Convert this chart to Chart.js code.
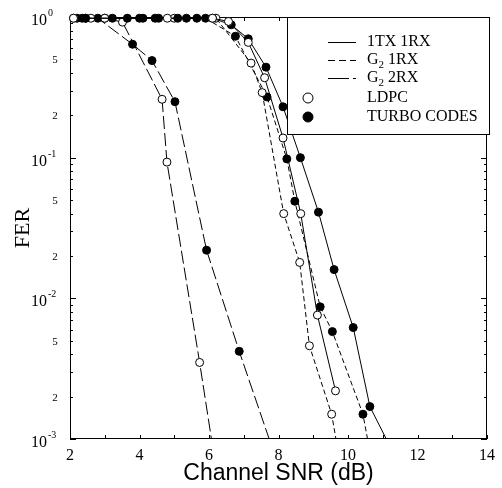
<!DOCTYPE html>
<html><head><meta charset="utf-8">
<script src="https://cdn.jsdelivr.net/npm/chart.js@4.4.0/dist/chart.umd.min.js"></script>
<style>html,body{margin:0;padding:0;background:#fff;}canvas{display:block;}</style>
</head><body>
<canvas id="c" width="502" height="488"></canvas>
<script>
// ---- data (x = Channel SNR dB, y = FER) ----
const xTicks = [2, 4, 6, 8, 10, 12, 14];

const ldpc1txX = [2.1, 4.8, 6.1, 6.56, 7.13, 7.6, 8.13, 8.64, 9.12, 9.64];
const ldpc1txY = [0.98, 0.98, 0.98, 0.93, 0.66, 0.37, 0.138, 0.040, 0.0076, 0.0022];

const turbo1txX = [2.35, 3.22, 4.0, 4.45, 5.1, 5.65, 6.1, 6.64, 7.13, 7.64, 8.13, 8.63, 9.15, 9.6, 10.15, 10.63, 11.6];
const turbo1txY = [0.98, 0.98, 0.98, 0.98, 0.98, 0.98, 0.98, 0.88, 0.70, 0.44, 0.23, 0.10, 0.041, 0.016, 0.0062, 0.0017, 0.00057];

const ldpcG21X = [3.0, 5.0, 6.2, 7.21, 7.53, 8.15, 8.61, 8.89, 9.53, 10.0];
const ldpcG21Y = [0.98, 0.98, 0.98, 0.47, 0.29, 0.040, 0.018, 0.0046, 0.0015, 0.00032];

const turboG21X = [2.45, 3.65, 4.1, 4.55, 5.35, 5.9, 6.76, 7.67, 8.24, 8.47, 9.2, 9.55, 10.43, 11.0];
const turboG21Y = [0.98, 0.98, 0.98, 0.98, 0.98, 0.98, 0.73, 0.27, 0.098, 0.049, 0.0087, 0.0058, 0.0015, 0.00026];

const ldpcG22X = [2.1, 2.6, 3.0, 3.51, 4.65, 4.79, 5.73, 6.3];
const ldpcG22Y = [0.98, 0.98, 0.98, 0.92, 0.26, 0.093, 0.0035, 0.00043];

const turboG22X = [2.2, 2.45, 2.8, 3.8, 4.36, 5.02, 5.93, 6.87, 8.0];
const turboG22Y = [0.98, 0.98, 0.98, 0.64, 0.49, 0.25, 0.022, 0.0042, 0.00064];

// ---- styles ----
const SOLID = [];
const SHORT = [5, 3];
const LONG = [13, 4];

function pts(xs, ys) { return xs.map((x, i) => ({x: x, y: ys[i]})); }
function ds(label, xs, ys, dash, filled) {
  return {
    label: label, data: pts(xs, ys), showLine: true, tension: 0,
    borderColor: '#000', borderWidth: 1, borderDash: dash,
    pointRadius: 4, pointHoverRadius: 4, pointBorderWidth: 1,
    pointBorderColor: '#000', pointBackgroundColor: filled ? '#000' : '#fff',
    clip: {left: 6, top: 6, right: 0, bottom: 0}
  };
}

function line(ctx, x1, y1, x2, y2) { ctx.beginPath(); ctx.moveTo(x1, y1); ctx.lineTo(x2, y2); ctx.stroke(); }

const SERIF = 'Liberation Serif, Times New Roman, serif';

const decor = {
  id: 'decor',
  beforeDatasetsDraw(chart) {
    const {ctx, chartArea: a, scales: {x, y}} = chart;
    ctx.save();
    ctx.strokeStyle = '#000'; ctx.lineWidth = 1; ctx.setLineDash([]);
    ctx.strokeRect(a.left + 0.5, a.top + 0.5, a.right - a.left - 1, a.bottom - a.top - 1);
    for (let v = 2; v <= 14; v++) {
      const px = Math.round(x.getPixelForValue(v)) + 0.5;
      line(ctx, px, a.bottom, px, a.bottom - 4);
      line(ctx, px, a.top, px, a.top + 4);
    }
    ctx.fillStyle = '#000';
    for (let e = -3; e <= 0; e++) {
      for (let m = 1; m <= 9; m++) {
        const v = m * Math.pow(10, e);
        if (v > 1.0001) break;
        const py = Math.round(y.getPixelForValue(v)) + 0.5;
        const len = m === 1 ? 6 : 3;
        line(ctx, a.left, py, a.left + len, py);
        line(ctx, a.right, py, a.right - len, py);
        if (m === 1) {
          ctx.font = '16px ' + SERIF; ctx.textAlign = 'right'; ctx.textBaseline = 'middle';
          ctx.fillText('10', 47, py + 3);
          ctx.font = '10px ' + SERIF; ctx.textAlign = 'left';
          ctx.fillText(e === 0 ? '0' : String(e), 48, py - 4);
        } else if (m === 2 || m === 5) {
          ctx.font = '11px ' + SERIF; ctx.textAlign = 'center'; ctx.textBaseline = 'middle';
          ctx.fillText(String(m), 55, py + 1);
        }
      }
    }
    ctx.restore();
  },
  afterDatasetsDraw(chart) {
    const ctx = chart.ctx;
    ctx.save();
    const L = 287, T = 17, R = 490, B = 135;
    ctx.fillStyle = '#fff'; ctx.fillRect(L, T, R - L, B - T);
    ctx.strokeStyle = '#000'; ctx.lineWidth = 1; ctx.setLineDash([]);
    ctx.strokeRect(L + 0.5, T + 0.5, R - L - 1, B - T - 1);
    const rows = [
      {y: 42, dash: SOLID, text: ['1TX 1RX']},
      {y: 60, dash: [7, 4], text: ['G', '2', ' 1RX']},
      {y: 78, dash: [21, 4], text: ['G', '2', ' 2RX']},
      {y: 98, marker: 'open', text: ['LDPC']},
      {y: 117, marker: 'filled', text: ['TURBO CODES']}
    ];
    ctx.fillStyle = '#000';
    rows.forEach(r => {
      if (r.dash) {
        ctx.setLineDash(r.dash);
        line(ctx, 328, r.y + 0.5, 356, r.y + 0.5);
        ctx.setLineDash([]);
      } else {
        ctx.beginPath(); ctx.arc(308, r.y, 5, 0, Math.PI * 2);
        ctx.fillStyle = r.marker === 'open' ? '#fff' : '#000'; ctx.fill(); ctx.stroke();
        ctx.fillStyle = '#000';
      }
      ctx.textAlign = 'left'; ctx.textBaseline = 'middle';
      let tx = 367;
      r.text.forEach((t, i) => {
        const sub = (r.text.length === 3 && i === 1);
        ctx.font = (sub ? '11px ' : '16px ') + SERIF;
        ctx.fillText(t, tx, r.y + (sub ? 5 : 0));
        tx += ctx.measureText(t).width;
      });
    });
    ctx.restore();
  }
};

new Chart(document.getElementById('c'), {
  type: 'scatter',
  data: {
    datasets: [
      ds('LDPC 1TX 1RX', ldpc1txX, ldpc1txY, SOLID, false),
      ds('TURBO 1TX 1RX', turbo1txX, turbo1txY, SOLID, true),
      ds('LDPC G2 1RX', ldpcG21X, ldpcG21Y, SHORT, false),
      ds('TURBO G2 1RX', turboG21X, turboG21Y, SHORT, true),
      ds('LDPC G2 2RX', ldpcG22X, ldpcG22Y, LONG, false),
      ds('TURBO G2 2RX', turboG22X, turboG22Y, LONG, true)
    ]
  },
  options: {
    responsive: false, animation: false, devicePixelRatio: 1,
    layout: {padding: {left: 0, top: 17, right: 11, bottom: 0}},
    plugins: {legend: {display: false}, tooltip: {enabled: false}},
    events: [],
    scales: {
      x: {
        type: 'linear', min: 2, max: 14,
        afterFit(s) { s.height = 49; },
        afterBuildTicks(s) { s.ticks = xTicks.map(v => ({value: v})); },
        grid: {display: false, drawTicks: false}, border: {display: false},
        ticks: {font: {family: SERIF, size: 16}, color: '#000', padding: 7, maxRotation: 0, autoSkip: false},
        title: {display: true, text: 'Channel SNR (dB)', color: '#000',
                font: {family: 'Liberation Sans, Arial, sans-serif', size: 23}, padding: {top: 0, bottom: 1}}
      },
      y: {
        type: 'logarithmic', min: 0.001, max: 1,
        afterFit(s) { s.width = 70; },
        grid: {display: false, drawTicks: false}, border: {display: false},
        ticks: {display: false},
        title: {display: true, text: 'FER', color: '#000',
                font: {family: SERIF, size: 22}, padding: {top: 10, bottom: 0}}
      }
    }
  },
  plugins: [decor]
});
</script>
</body></html>
